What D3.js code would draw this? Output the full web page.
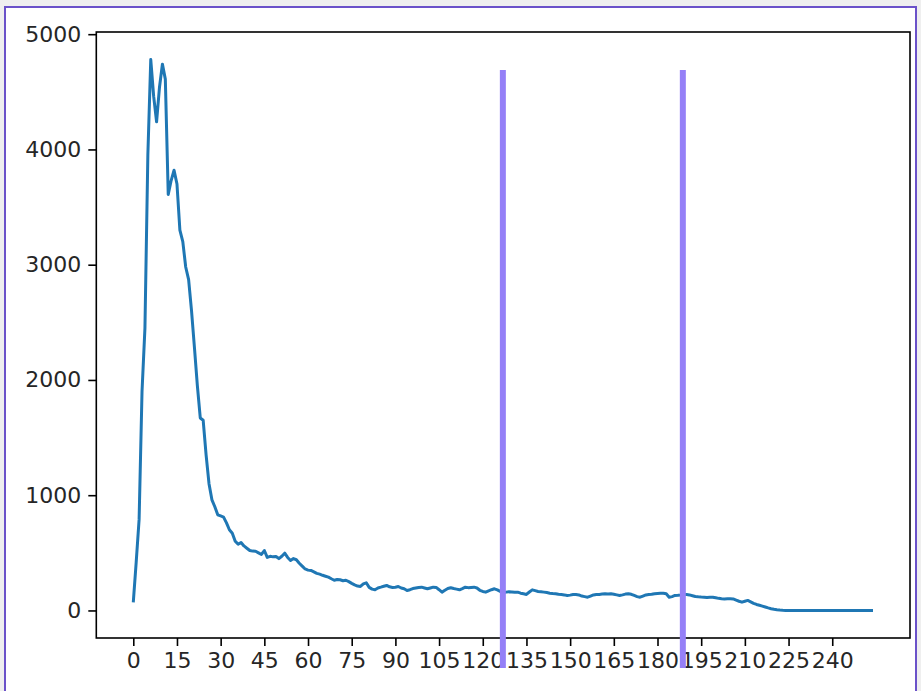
<!DOCTYPE html>
<html>
<head>
<meta charset="utf-8">
<script src="https://cdn.jsdelivr.net/npm/d3@7"></script>
<style>
  body { margin: 0; background: #efefef; }
  svg { display: block; }
  .tick text { font-family: "DejaVu Sans", sans-serif; fill: #262626; }
</style>
</head>
<body>
<div id="chart"></div>
<script>
// series values, one per index (0..254)
const values = [
  70, 420, 790, 1900, 2450, 3950, 4780, 4460, 4240, 4540,
  4740, 4610, 3610, 3730, 3820, 3700, 3300, 3200, 2980, 2870,
  2600, 2280, 1950, 1670, 1650, 1350, 1100, 960, 900, 830,
  820, 810, 760, 700, 670, 600, 575, 590, 560, 540,
  520, 515, 514, 500, 486, 520, 460, 470, 465, 468,
  450, 470, 497, 460, 434, 450, 440, 410, 385, 360,
  350, 347, 335, 322, 315, 305, 297, 289, 275, 262,
  268, 266, 258, 262, 250, 235, 222, 212, 208, 230,
  240, 200, 185, 180, 195, 202, 210, 217, 205, 200,
  202, 208, 195, 188, 173, 180, 190, 195, 200, 202,
  195, 188, 195, 202, 200, 180, 159, 175, 190, 197,
  190, 185, 179, 190, 202, 198, 200, 202, 195, 175,
  165, 159, 170, 180, 188, 178, 165, 160, 159, 162,
  160, 158, 159, 150, 145, 139, 160, 179, 172, 165,
  162, 159, 155, 150, 147, 145, 140, 138, 135, 130,
  133, 138, 139, 135, 125, 120, 115, 125, 135, 139,
  139, 142, 145, 143, 145, 140, 135, 130, 135, 142,
  145, 140, 130, 120, 115, 125, 135, 139, 140, 145,
  148, 150, 150, 145, 115, 120, 130, 132, 135, 139,
  139, 135, 128, 121, 118, 116, 115, 112, 115, 115,
  110, 105, 101, 100, 101, 101, 100, 90, 80, 72,
  80, 87, 75, 62, 52, 45, 38, 30, 22, 15,
  10, 6, 3, 1, 0, 0, 0, 0, 0, 0,
  0, 0, 0, 0, 0, 0, 0, 0, 0, 0,
  0, 0, 0, 0, 0, 0, 0, 0, 0, 0,
  0, 0, 0, 0, 0
];

// tick labels
const xTicks = [0, 15, 30, 45, 60, 75, 90, 105, 120, 135, 150, 165, 180, 195, 210, 225, 240];
const yTicks = [0, 1000, 2000, 3000, 4000, 5000];

// overlaid vertical marker lines (x in data units, y extent in data units)
const markerX = [126.9, 188.7];
const markerY = [-500, 4690];

const width = 921, height = 691;
const plot = {left: 96.3, right: 910, top: 32, bottom: 638};

const svg = d3.select("#chart")
  .append("svg")
  .attr("width", width)
  .attr("height", height);

// page frame
svg.append("rect")
  .attr("x", 5).attr("y", 7)
  .attr("width", 911).attr("height", 700)
  .attr("fill", "#fff")
  .attr("stroke", "#6b52c9")
  .attr("stroke-width", 2);

// matplotlib style 5% margins
const n = values.length;
const xPad = (n - 1) * 0.05;
const yMax = d3.max(values), yMin = d3.min(values);
const yPad = (yMax - yMin) * 0.05;

const x = d3.scaleLinear()
  .domain([-xPad, n - 1 + xPad])
  .range([plot.left, plot.right]);

const y = d3.scaleLinear()
  .domain([yMin - yPad, yMax + yPad])
  .range([plot.bottom, plot.top]);

const line = d3.line()
  .x((d, i) => x(i))
  .y(d => y(d));

svg.append("path")
  .datum(values)
  .attr("fill", "none")
  .attr("stroke", "#1f77b4")
  .attr("stroke-width", 3)
  .attr("stroke-linejoin", "round")
  .attr("d", line);

// axes
svg.append("g")
  .attr("transform", `translate(${plot.left},0)`)
  .call(d3.axisLeft(y).tickValues(yTicks).tickSize(8).tickPadding(7).tickFormat(d3.format("d")))
  .call(g => g.select(".domain").remove());

svg.append("g")
  .attr("transform", `translate(0,${plot.bottom})`)
  .call(d3.axisBottom(x).tickValues(xTicks).tickSize(8).tickPadding(6).tickFormat(d3.format("d")))
  .call(g => g.select(".domain").remove());

svg.selectAll(".tick line").attr("stroke", "#000").attr("stroke-width", 1.6);
svg.selectAll(".tick text").style("font-size", "22px");

// spines
svg.append("rect")
  .attr("x", plot.left).attr("y", plot.top)
  .attr("width", plot.right - plot.left)
  .attr("height", plot.bottom - plot.top)
  .attr("fill", "none")
  .attr("stroke", "#000")
  .attr("stroke-width", 1.6);

// marker lines
svg.append("g")
  .selectAll("line")
  .data(markerX)
  .join("line")
    .attr("x1", d => x(d)).attr("x2", d => x(d))
    .attr("y1", y(markerY[1])).attr("y2", y(markerY[0]))
    .attr("stroke", "#9580f7")
    .attr("stroke-width", 6);
</script>
</body>
</html>
